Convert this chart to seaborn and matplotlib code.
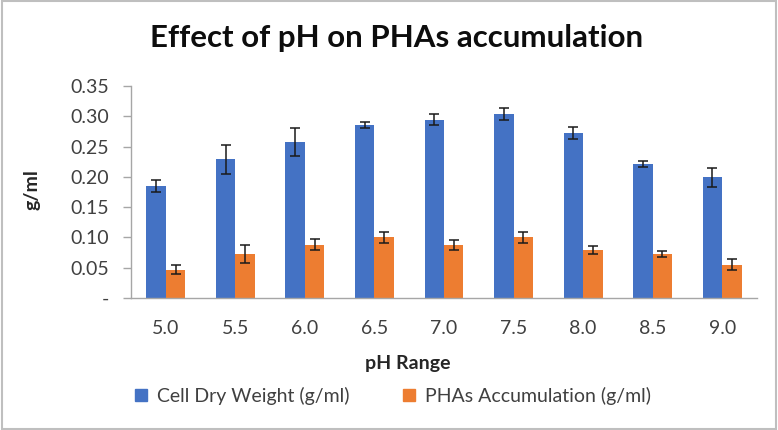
import matplotlib
matplotlib.use("Agg")
import matplotlib.pyplot as plt
from matplotlib.patches import Rectangle
from matplotlib.ticker import FuncFormatter, FixedLocator
import seaborn as sns
import pandas as pd

# values
ph_levels = ["5.0", "5.5", "6.0", "6.5", "7.0", "7.5", "8.0", "8.5", "9.0"]
cell_dry_weight = [0.185, 0.229, 0.257, 0.286, 0.294, 0.304, 0.272, 0.222, 0.199]
cell_dry_err = [0.010, 0.024, 0.023, 0.005, 0.009, 0.010, 0.010, 0.005, 0.016]
pha_accum = [0.047, 0.073, 0.088, 0.100, 0.088, 0.100, 0.079, 0.073, 0.055]
pha_err = [0.008, 0.015, 0.009, 0.009, 0.008, 0.009, 0.007, 0.005, 0.009]
series_names = ["Cell Dry Weight (g/ml)", "PHAs Accumulation (g/ml)"]
colors = ["#4472C4", "#ED7D31"]

df = pd.DataFrame({
    "pH": ph_levels * 2,
    "value": cell_dry_weight + pha_accum,
    "series": [series_names[0]] * len(ph_levels) + [series_names[1]] * len(ph_levels),
})
errors = [cell_dry_err, pha_err]

sns.set_style("white")
plt.rcParams["font.family"] = ["Lato", "DejaVu Sans"]

fig = plt.figure(figsize=(7.78, 4.30), dpi=100)
ax = fig.add_axes([131 / 778, 1 - 298 / 430, 626 / 778, 212 / 430])

sns.barplot(data=df, x="pH", y="value", hue="series", palette=colors, saturation=1,
            width=0.56, errorbar=None, linewidth=0, ax=ax)

# error bars on top of each bar
for cont, err in zip(ax.containers, errors):
    xs = [b.get_x() + b.get_width() / 2 for b in cont]
    hs = [b.get_height() for b in cont]
    ax.errorbar(xs, hs, yerr=err, fmt="none", ecolor="#1a1a1a",
                elinewidth=1.1, capsize=3.5, capthick=1.1)

ax.set_ylim(0, 0.35)
ax.set_xlim(-0.5, len(ph_levels) - 0.5)
ax.set_yticks([0, 0.05, 0.10, 0.15, 0.20, 0.25, 0.30, 0.35])
ax.yaxis.set_major_formatter(FuncFormatter(lambda v, p: "-" if abs(v) < 1e-9 else f"{v:.2f}"))

# category boundary ticks like Excel
ax.xaxis.set_minor_locator(FixedLocator([i - 0.5 for i in range(len(ph_levels) + 1)]))
ax.tick_params(axis="x", which="major", length=0, pad=16, labelsize=14, labelcolor="#404040")
ax.tick_params(axis="x", which="minor", length=6, width=1, color="#A6A6A6", direction="out")
ax.tick_params(axis="y", which="major", length=6, width=1, color="#A6A6A6",
               direction="out", left=True, labelsize=14, labelcolor="#404040", pad=10)

for side in ["top", "right"]:
    ax.spines[side].set_visible(False)
for side in ["left", "bottom"]:
    ax.spines[side].set_color("#A6A6A6")
    ax.spines[side].set_linewidth(1)

ax.set_xlabel("")
ax.set_ylabel("")
fig.text(408 / 778, 1 - 363 / 430, "pH Range", ha="center", va="center",
         fontsize=14, fontweight="bold", color="#262626")
fig.text(32 / 778, 1 - 190 / 430, "g/ml", ha="center", va="center", rotation=90,
         fontsize=14, fontweight="bold", color="#262626")
fig.text(397 / 778, 1 - 38 / 430, "Effect of pH on PHAs accumulation", ha="center",
         va="center", fontsize=22.5, fontweight="bold", color="#0d0d0d")

ax.legend_.remove()
handles = [Rectangle((0, 0), 1, 1, color=c) for c in colors]
fig.legend(handles, series_names, loc="center", bbox_to_anchor=(393 / 778, 1 - 396 / 430),
           ncol=2, frameon=False, fontsize=14, handlelength=0.6, handleheight=0.6,
           columnspacing=2.8, handletextpad=0.5, labelcolor="#404040")

fig.patches.append(Rectangle((0.002, 0.003), 0.996, 0.994, transform=fig.transFigure,
                             fill=False, edgecolor="#BFBFBF", linewidth=1.5))

fig.savefig("out.png", dpi=100)
